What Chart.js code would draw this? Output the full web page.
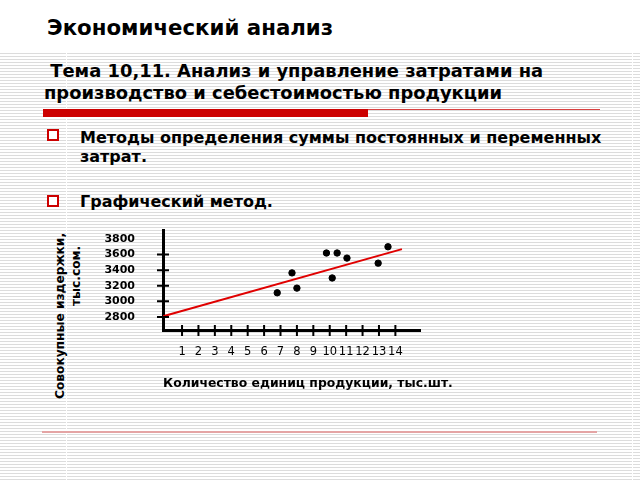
<!DOCTYPE html>
<html lang="ru">
<head>
<meta charset="utf-8">
<script src="https://cdn.jsdelivr.net/npm/chart.js@4/dist/chart.umd.min.js"></script>
<style>
  body { margin: 0; }
  .slide {
    position: relative; width: 640px; height: 480px; overflow: hidden;
    background: #fff; font-family: "DejaVu Sans", sans-serif; color: #000;
  }
  .stripes {
    position: absolute; left: 0; top: 53px; width: 640px; height: 427px;
    background: repeating-linear-gradient(to bottom, #dcdcdc 0, #dcdcdc 1px, #fff 1px, #fff 3px);
  }
  .vline { position: absolute; top: 53px; width: 1px; height: 427px; background: #fff; }
  .txt { position: absolute; font-weight: bold; white-space: nowrap; }
  .bullet { position: absolute; width: 8px; height: 8px; border: 2px solid #cc0000; background: #fff; }
  .bar { position: absolute; background: #cc0000; }
  .ytitle {
    position: absolute; font-weight: bold; font-size: 12.2px; white-space: nowrap;
    transform-origin: 0 0; transform: rotate(-90deg);
  }
  #chartBox { position: absolute; left: 50px; top: 222px; width: 420px; height: 180px; }
</style>
</head>
<body>
<div class="slide">
  <div class="stripes"></div>
  <div class="vline" style="left:66px"></div>
  <div class="vline" style="left:632px"></div>

  <div class="txt" style="left:47px; top:15px; font-size:21.3px;">Экономический анализ</div>
  <div class="txt" style="left:44px; top:60px; font-size:17.9px; line-height:22px;">&nbsp;Тема 10,11. Анализ и управление затратами на<br>производство и себестоимостью продукции</div>

  <div class="bar" style="left:43px; top:109px; width:325px; height:8px;"></div>
  <div class="bar" style="left:368px; top:109px; width:232px; height:1px; background:#d84040;"></div>

  <div class="bullet" style="left:47px; top:129px;"></div>
  <div class="txt" style="left:80px; top:128px; font-size:16px; line-height:19px;">Методы определения суммы постоянных и переменных<br>затрат.</div>
  <div class="bullet" style="left:47px; top:195px;"></div>
  <div class="txt" style="left:80px; top:192px; font-size:16px;">Графический метод.</div>

  <div class="ytitle" style="left:53px; top:399px;">Совокупные издержки,</div>
  <div class="ytitle" style="left:69px; top:306px;">тыс.сом.</div>

  <div id="chartBox"><canvas id="costChart"></canvas></div>

  <div class="txt" style="left:163px; top:375px; font-size:12.4px;">Количество единиц продукции, тыс.шт.</div>

  <div class="bar" style="left:42px; top:431px; width:555px; height:2px; background:#e4a4a4;"></div>
</div>

<script>
// observed points: output (thousand units) vs total cost
const unitsX = [6.8, 7.7, 8.0, 9.8, 10.15, 10.45, 11.05, 12.95, 13.55];
const costY = [3110, 3365, 3170, 3620, 3300, 3620, 3555, 3490, 3700];

// trend line drawn through the cloud
const trendX = [-0.15, 14.4];
const trendY = [2810, 3670];

const xTicks = [1, 2, 3, 4, 5, 6, 7, 8, 9, 10, 11, 12, 13, 14];
const yTicks = [2800, 3000, 3200, 3400, 3600, 3800];
const yTickMarks = [2800, 3000, 3200, 3400, 3600];

// tick marks that cross the axis line, as on the slide
const crossTicks = {
    id: 'crossTicks',
    afterDraw(chart) {
        const ctx = chart.ctx;
        const { left, bottom } = chart.chartArea;
        const xs = chart.scales.x;
        const ys = chart.scales.y;
        ctx.save();
        ctx.strokeStyle = '#000';
        ctx.lineWidth = 2;
        ctx.beginPath();
        xTicks.forEach(v => {
            const px = xs.getPixelForValue(v);
            ctx.moveTo(px, bottom - 5);
            ctx.lineTo(px, bottom + 6);
        });
        yTickMarks.forEach(v => {
            const py = ys.getPixelForValue(v);
            ctx.moveTo(left - 6, py);
            ctx.lineTo(left + 6, py);
        });
        ctx.stroke();
        ctx.restore();
    }
};

new Chart(document.getElementById('costChart'), {
    type: 'scatter',
    data: {
        datasets: [{
            label: 'Издержки',
            data: unitsX.map((x, i) => ({ x: x, y: costY[i] })),
            backgroundColor: '#000',
            borderColor: '#000',
            pointRadius: 3.2,
            pointHoverRadius: 3.2
        }, {
            label: 'Тренд',
            data: trendX.map((x, i) => ({ x: x, y: trendY[i] })),
            showLine: true,
            borderColor: '#e00000',
            borderWidth: 2,
            pointRadius: 0,
            fill: false
        }]
    },
    options: {
        responsive: true,
        maintainAspectRatio: false,
        animation: false,
        clip: false,
        layout: { padding: { left: 0, right: 50, top: 8, bottom: 0 } },
        plugins: {
            legend: { display: false },
            tooltip: { enabled: false }
        },
        scales: {
            x: {
                type: 'linear',
                min: -0.16,
                max: 15.5,
                afterBuildTicks: s => { s.ticks = xTicks.map(v => ({ value: v })); },
                afterFit: s => { s.height = 72; },
                grid: { display: true, drawOnChartArea: false, drawTicks: false },
                border: { display: true, color: '#000', width: 3 },
                ticks: {
                    color: '#000',
                    padding: 15,
                    maxRotation: 0,
                    autoSkip: false,
                    callback: v => String(v),
                    font: { family: 'DejaVu Sans', size: 11.5 }
                }
            },
            y: {
                type: 'linear',
                min: 2633,
                max: 3915,
                afterBuildTicks: s => { s.ticks = yTicks.map(v => ({ value: v })); },
                afterFit: s => { s.width = 113; s.paddingTop = 0; s.paddingBottom = 0; },
                grid: { display: true, drawOnChartArea: false, drawTicks: false },
                border: { display: true, color: '#000', width: 3 },
                ticks: {
                    color: '#000',
                    padding: 28,
                    autoSkip: false,
                    callback: v => String(v),
                    font: { family: 'DejaVu Sans', size: 11, weight: 'bold' }
                }
            }
        }
    },
    plugins: [crossTicks]
});
</script>
</body>
</html>
